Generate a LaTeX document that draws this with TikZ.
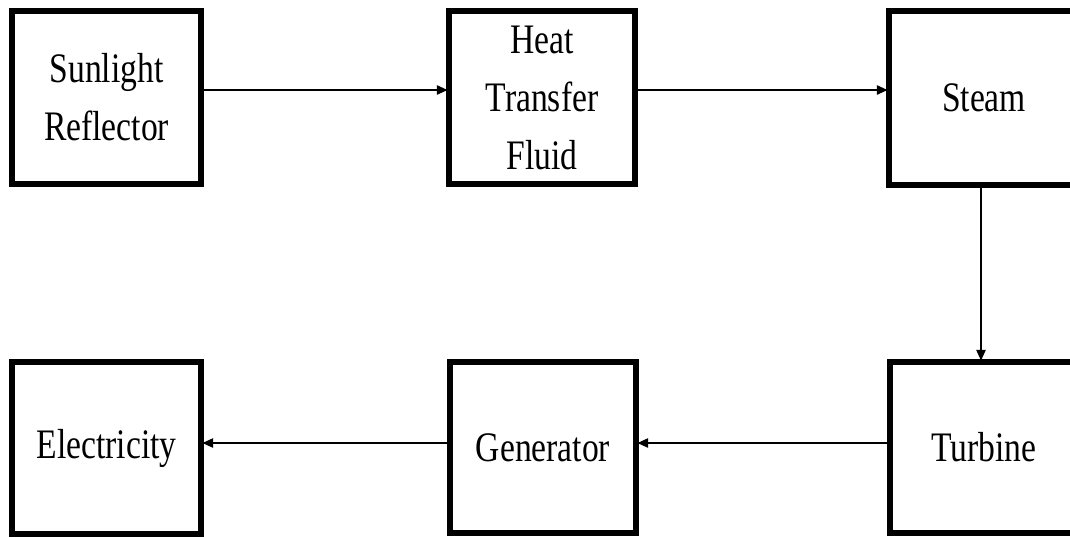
\documentclass[tikz,border=0pt]{standalone}
\usepackage{fontspec}
\setmainfont{Liberation Serif}[FakeStretch=0.8]
\usetikzlibrary{arrows.meta}
\begin{document}
\begin{tikzpicture}[x=0.75pt,y=-0.75pt,
  box/.style={draw=black,line width=4.2pt,fill=white,inner sep=0pt,
    align=center,font=\fontsize{31.5}{43.5}\selectfont},
  arr/.style={draw=black,line width=1.1pt,-{Triangle[length=8pt,width=7pt]},shorten >=-1pt}]
\clip (0,0) rectangle (1070,537);
\fill[white] (0,0) rectangle (1070,537);
\node[box,minimum width=189*0.75pt,minimum height=173*0.75pt] (sun) at (106.5,97.5) {Sunlight\\Reflector};
\node[box,minimum width=186*0.75pt,minimum height=173*0.75pt] (heat) at (542,97.5) {Heat\\Transfer\\Fluid};
\node[box,minimum width=190*0.75pt,minimum height=174*0.75pt] (steam) at (984,98) {Steam};
\node[box,minimum width=189*0.75pt,minimum height=172*0.75pt] (elec) at (106.5,448) {Electricity};
\node[box,minimum width=186*0.75pt,minimum height=171*0.75pt] (gen) at (543,447.5) {Generator};
\node[box,minimum width=188*0.75pt,minimum height=171*0.75pt] (turb) at (984,447.5) {Turbine};
\draw[arr] (sun.east |- 0,90) -- (heat.west |- 0,90);
\draw[arr] (heat.east |- 0,90) -- (steam.west |- 0,90);
\draw[arr] (steam.south -| 981,0) -- (turb.north -| 981,0);
\draw[arr] (turb.west |- 0,443) -- (gen.east |- 0,443);
\draw[arr] (gen.west |- 0,443) -- (elec.east |- 0,443);
\end{tikzpicture}
\end{document}
